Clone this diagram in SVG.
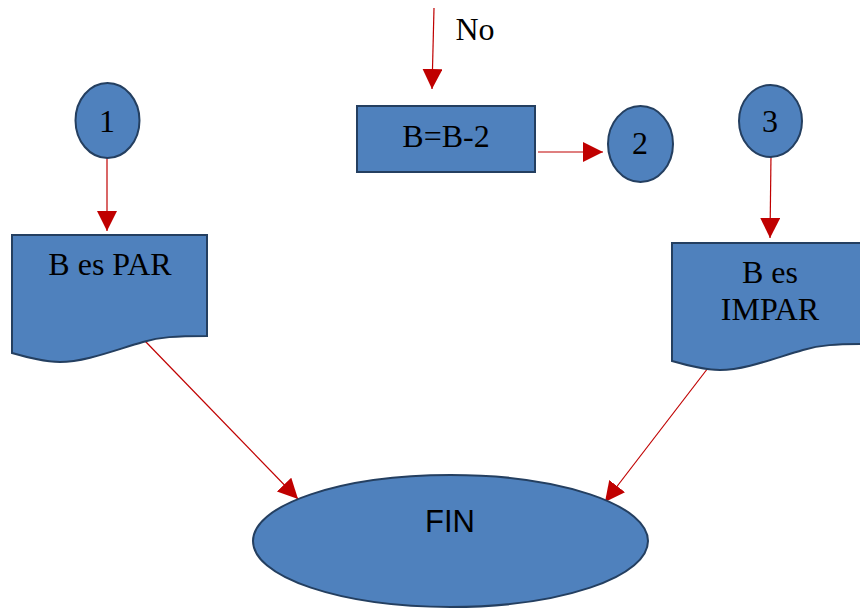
<svg xmlns="http://www.w3.org/2000/svg" width="860" height="610" viewBox="0 0 860 610">
<style>
.shape{fill:#4F81BD;stroke:#243F60;stroke-width:2}
.conn{stroke:#C00000;stroke-width:1.2;fill:none}
.t{font-family:"Liberation Serif","Times New Roman",serif;font-size:32px;fill:#000;text-anchor:middle}
.s{font-family:"Liberation Sans",Arial,sans-serif;font-size:31px;fill:#000;text-anchor:middle}
</style>
<defs>
<marker id="ah" markerUnits="userSpaceOnUse" markerWidth="21" markerHeight="21" refX="20" refY="10" orient="auto">
<path d="M0,0 L20,10 L0,20 Z" fill="#C00000"/>
</marker>
<path id="doc" d="M12,235 H207 V336 C175,336 160,337 143,342 C115,350 85,362 60,362 C45,362 30,358 12,353 Z"/>
</defs>
<g id="connectors">
<line class="conn" x1="434" y1="8" x2="432" y2="89" marker-end="url(#ah)"/>
<line class="conn" x1="538" y1="152" x2="603" y2="152" marker-end="url(#ah)"/>
<line class="conn" x1="107" y1="151" x2="107" y2="231" marker-end="url(#ah)"/>
<line class="conn" x1="771" y1="155" x2="770" y2="238" marker-end="url(#ah)"/>
<line class="conn" x1="145" y1="341" x2="298" y2="499" marker-end="url(#ah)"/>
<line class="conn" x1="708" y1="368" x2="605" y2="502" marker-end="url(#ah)"/>
</g>
<g id="label-no"><text class="t" x="475" y="40">No</text></g>
<g id="node-bb2">
<rect class="shape" x="357" y="106" width="178" height="66"/>
<text class="t" x="446" y="147">B=B-2</text>
</g>
<g id="node-c2">
<ellipse class="shape" cx="640.5" cy="144" rx="32.5" ry="38"/>
<text class="t" x="640" y="154">2</text>
</g>
<g id="node-c1">
<ellipse class="shape" cx="107.5" cy="120.5" rx="32" ry="37.5"/>
<text class="t" x="107" y="132">1</text>
</g>
<g id="node-c3">
<ellipse class="shape" cx="770.5" cy="121" rx="31.5" ry="36"/>
<text class="t" x="770" y="132">3</text>
</g>
<g id="node-par">
<use href="#doc" class="shape"/>
<text class="t" x="110" y="275">B es PAR</text>
</g>
<g id="node-impar">
<use href="#doc" class="shape" transform="translate(660,8)"/>
<text class="t" x="770" y="283">B es</text>
<text class="t" x="770" y="320">IMPAR</text>
</g>
<g id="node-fin">
<ellipse class="shape" cx="450.5" cy="541" rx="197.5" ry="66"/>
<text class="s" x="450" y="532">FIN</text>
</g>
</svg>
